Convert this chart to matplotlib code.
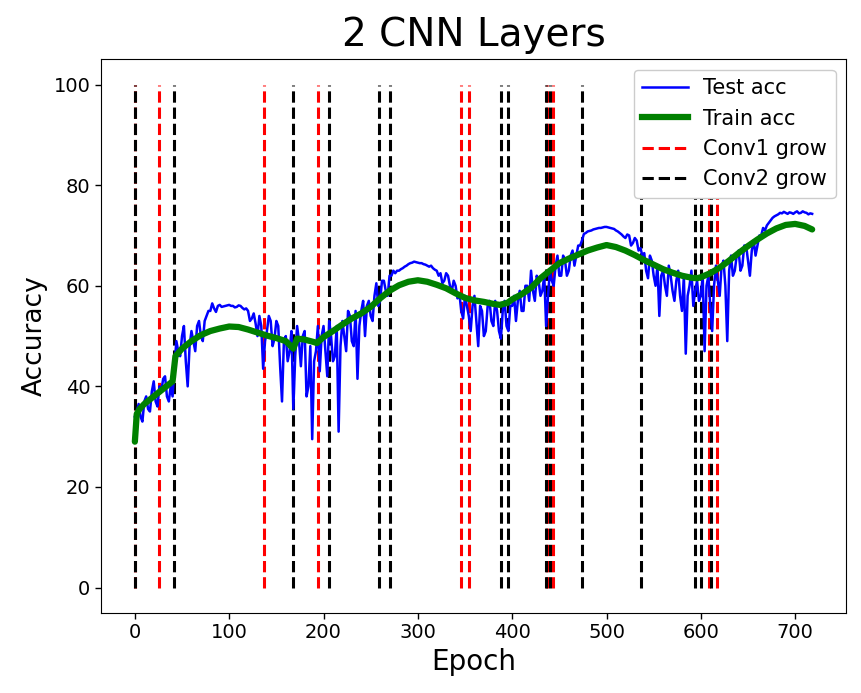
import numpy as np
import matplotlib
matplotlib.use("Agg")
import matplotlib.pyplot as plt
from matplotlib.lines import Line2D

# ---- data ----
test_epochs = np.arange(0, 720, 2)
test_acc = [
    34, 35, 36.5, 34, 33, 37, 38, 35.5, 35, 39, 41, 37, 36, 40, 39, 41.5, 42, 38, 37, 40,
    38, 44, 49, 47, 46, 50, 52, 45, 40, 48, 51, 49, 47, 52, 53, 50, 49, 53, 54, 55,
    55, 56.5, 55.5, 54.8, 56, 56.2, 55.8, 55.9, 56, 56.1, 56.2, 56, 56, 55.7, 55.8, 56.1, 56, 55.6, 55.3, 55.5,
    55, 53, 53.5, 54.5, 52.5, 50, 54, 52, 43.5, 49, 51, 54, 53, 48, 49.5, 53, 52, 44, 37, 49,
    50, 45, 47, 51, 35.5, 46, 52, 49, 44, 50, 51, 38, 40, 48, 29.5, 45, 47, 52, 43, 50,
    52, 47, 42, 53, 50, 45, 46, 52, 31, 48, 53, 50, 47, 55, 54, 49, 48, 55, 41.5, 52,
    55, 57, 50, 56, 57, 54, 53, 58, 60.5, 56, 57, 61, 61, 59, 58, 62, 62, 63, 62.5, 63,
    63, 63.3, 63.5, 63.8, 64, 64.3, 64.5, 64.6, 64.8, 64.7, 64.6, 64.5, 64.5, 64.3, 64.2, 64, 63.8, 64, 63.5, 63.2,
    63, 62, 62.5, 60.5, 61, 62.5, 62, 60, 59, 61, 60, 57.5, 58.5, 55, 53.5, 58, 56, 54, 51, 56,
    58, 53, 48, 56, 55, 50, 51, 56, 57, 53, 52, 57, 55, 51, 49.5, 55, 57, 52, 51, 56,
    56, 58, 53, 57, 59, 55, 55, 60, 60, 57, 63, 59, 57, 62, 61, 58, 59, 62, 52, 58,
    63, 61, 60, 64, 66, 62, 62, 66, 65, 62, 63, 66, 67, 64, 66, 68, 68, 69, 70.3, 70.5,
    70.8, 70.9, 71, 71.2, 71.3, 71.4, 71.5, 71.5, 71.6, 71.7, 71.7, 71.6, 71.5, 71.4, 71.3, 71, 70.8, 70.5, 70.2, 69.8,
    69.5, 70.2, 70, 68, 68.5, 69.5, 69, 67, 67.5, 66, 66.5, 63, 61.5, 66, 65, 62, 60, 64, 54, 62,
    63, 60, 58, 64, 62, 59, 57, 61, 63, 58, 55, 62, 46.5, 58, 60, 63, 56, 59, 61, 57,
    58, 62, 47, 60, 62, 56, 51, 60, 64, 61, 58, 64, 65, 60, 49, 63, 66, 62, 63, 66,
    67, 63, 64, 68, 68, 65, 62, 67, 69, 66, 68, 70, 70, 71.5, 71, 72, 72.5, 73, 73.5, 73.8,
    74, 74.2, 74.5, 74.4, 74.7, 74.5, 74.3, 74.6, 74.5, 74.3, 74.6, 74.8, 74.4, 74.5, 74.8, 74.6, 74.5, 74.2, 74.4, 74.3,
]

train_epochs = [0, 2, 5, 10, 20, 30, 40, 43, 50, 60, 70, 80, 90, 100, 110,
                120, 130, 140, 150, 160, 168, 172, 180, 190, 193, 200, 210,
                220, 230, 240, 250, 260, 270, 280, 290, 300, 310, 320, 330,
                340, 350, 360, 370, 380, 387, 395, 400, 410, 420, 430, 440,
                450, 460, 470, 480, 490, 500, 510, 520, 530, 540, 550, 560,
                570, 580, 590, 596, 600, 610, 620, 630, 640, 650, 660, 670,
                680, 690, 700, 710, 718]
train_acc = [29, 34.5, 35.5, 36.5, 38, 39.5, 41, 46, 47.5, 49, 50.2, 51, 51.5,
             51.9, 51.8, 51.3, 50.7, 50.1, 49.6, 49, 47.5, 49.5, 49.3, 48.8,
             48.6, 49.8, 51, 52.3, 53.5, 54.5, 55.8, 57.5, 59, 60.1, 60.8,
             61.1, 60.8, 60.2, 59.5, 58.5, 57.6, 57.1, 56.8, 56.4, 56.2, 56.6,
             57.3, 58.3, 59.6, 61.5, 63, 64.5, 65.4, 66.2, 67, 67.6, 68.1,
             67.7, 67, 66.1, 65.1, 64.2, 63.3, 62.6, 62, 61.6, 61.5, 61.7,
             62.5, 63.6, 65, 66.5, 67.9, 69.2, 70.4, 71.4, 72.1, 72.3, 71.9,
             71.2]

conv1_grow = [0, 26, 137, 194.5, 345.5, 354, 437, 443, 609, 617.5]
conv2_grow = [0, 41, 168, 206, 259, 270, 388, 396, 436, 440, 474, 537,
              594, 600, 611]

# ---- plot ----
fig = plt.figure(figsize=(8.61, 6.93), dpi=100)
ax = fig.add_axes([0.1173, 0.1159, 0.8653, 0.7983])

for e in conv1_grow:
    ax.plot([e, e], [0, 100], color="red", linestyle="--", linewidth=2.2, zorder=1)
for e in conv2_grow:
    ax.plot([e, e], [0, 100], color="black", linestyle="--", linewidth=2.2, zorder=1)

ax.plot(test_epochs, test_acc, color="blue", linewidth=1.8, zorder=2)
ax.plot(train_epochs, train_acc, color="green", linewidth=4.5, zorder=3,
        solid_capstyle="round")

ax.set_xlim(-35.9, 753.9)
ax.set_ylim(-5, 105)
ax.set_xticks([0, 100, 200, 300, 400, 500, 600, 700])
ax.set_yticks([0, 20, 40, 60, 80, 100])
ax.tick_params(labelsize=14, length=4.2, width=1)

ax.set_title("2 CNN Layers", fontsize=28, pad=10)
ax.set_xlabel("Epoch", fontsize=20)
ax.set_ylabel("Accuracy", fontsize=19)

handles = [
    Line2D([], [], color="blue", linewidth=1.8),
    Line2D([], [], color="green", linewidth=4.5),
    Line2D([], [], color="red", linestyle="--", linewidth=2.2),
    Line2D([], [], color="black", linestyle="--", linewidth=2.2),
]
leg = ax.legend(handles, ["Test acc", "Train acc", "Conv1 grow", "Conv2 grow"],
                loc="upper right", fontsize=15, framealpha=1.0,
                handlelength=2.2, handletextpad=0.75)
leg.set_zorder(5)

fig.savefig("out.png", dpi=100)
